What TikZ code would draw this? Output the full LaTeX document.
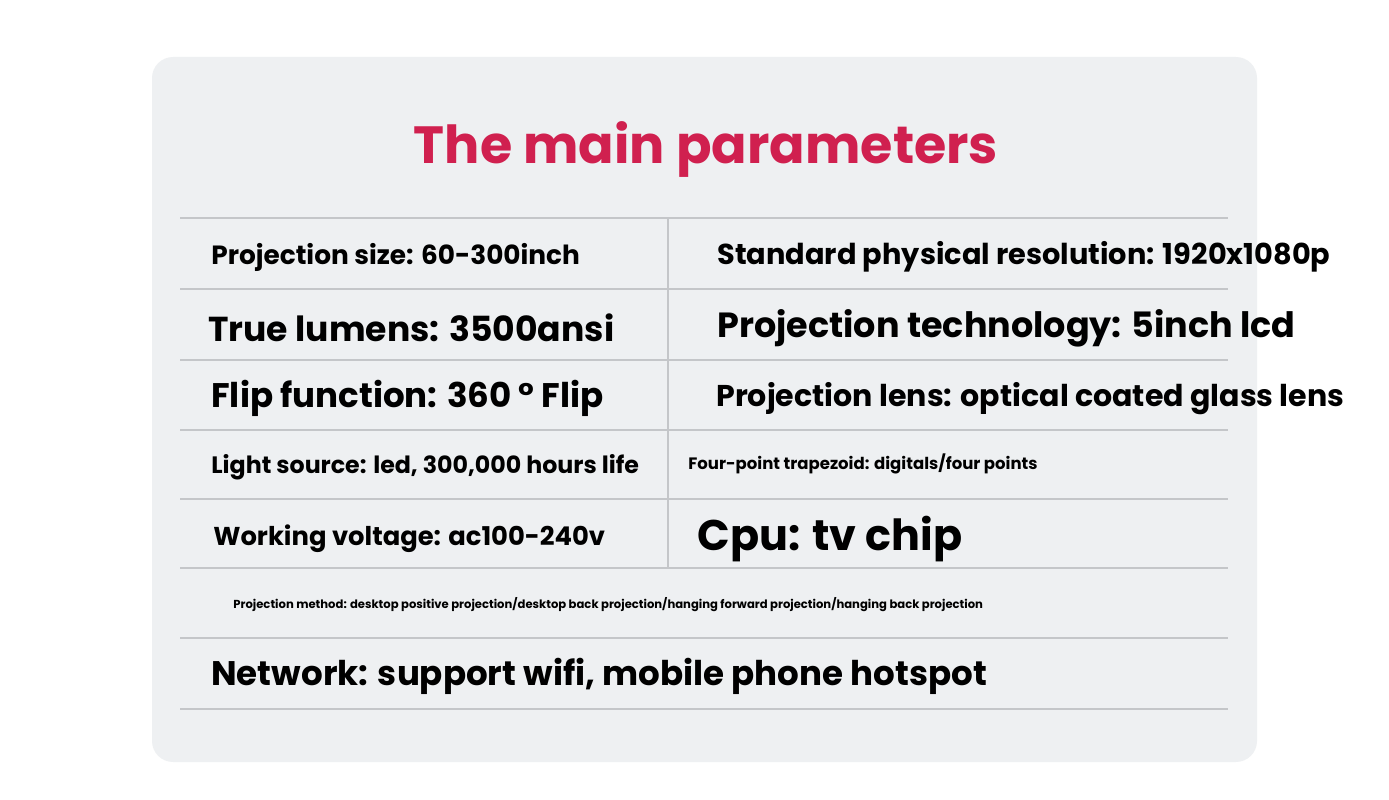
\documentclass[tikz,border=0pt]{standalone}
\usepackage{fontspec}
\setmainfont{Poppins}
\definecolor{panelgray}{HTML}{EEF0F2}
\definecolor{titlered}{HTML}{D0204F}
\definecolor{rulegray}{HTML}{C4C6C9}
\begin{document}
\begin{tikzpicture}[x=0.02cm,y=-0.02cm,
  cell/.style={anchor=west,inner sep=0pt,font=\bfseries},
  rowline/.style={rulegray,line width=1pt}]
\useasboundingbox (0,0) rectangle (1389,800);
\fill[white] (0,0) rectangle (1389,800);
\fill[panelgray,rounded corners=12pt] (152,57) rectangle (1257,762);
\node[titlered,font=\fontsize{29.8}{34}\selectfont\bfseries] (title) at (706,149) {The main parameters};
% rules
\foreach \yy in {218,289,360,430,499,568,638,709}
  \draw[rowline] (180,\yy) -- (1228,\yy);
\draw[rowline] (668,218) -- (668,568);
% left column
\node[cell,font=\fontsize{15}{18}\selectfont\bfseries] (size) at (211,257) {Projection size: 60-300inch};
\node[cell,font=\fontsize{19.7}{23}\selectfont\bfseries] (lumen) at (208,328) {True lumens: 3500ansi};
\node[cell,font=\fontsize{19.4}{23}\selectfont\bfseries] (flip) at (211,398) {Flip function: 360 ° Flip};
\node[cell,font=\fontsize{13.5}{16}\selectfont\bfseries] (light) at (211,467) {Light source: led, 300,000 hours life};
\node[cell,font=\fontsize{14.7}{17}\selectfont\bfseries] (volt) at (213,539) {Working voltage: ac100-240v};
% right column
\node[cell,font=\fontsize{16.4}{19}\selectfont\bfseries] (res) at (717,257) {Standard physical resolution: 1920x1080p};
\node[cell,font=\fontsize{19.9}{23}\selectfont\bfseries] (tech) at (717,328) {Projection technology: 5inch lcd};
\node[cell,font=\fontsize{17.1}{20}\selectfont\bfseries] (lens) at (716,399) {Projection lens: optical coated glass lens};
\node[cell,font=\fontsize{9.4}{11}\selectfont\bfseries] (trap) at (688,464) {Four-point trapezoid: digitals/four points};
\node[cell,font=\fontsize{24.4}{28}\selectfont\bfseries] (cpu) at (697,539) {Cpu: tv chip};
% full rows
\node[cell,font=\fontsize{6.6}{8}\selectfont\bfseries] (method) at (233,605) {Projection method: desktop positive projection/desktop back projection/hanging forward projection/hanging back projection};
\node[cell,font=\fontsize{19.4}{23}\selectfont\bfseries] (net) at (211,676) {Network: support wifi, mobile phone hotspot};
\end{tikzpicture}
\end{document}
